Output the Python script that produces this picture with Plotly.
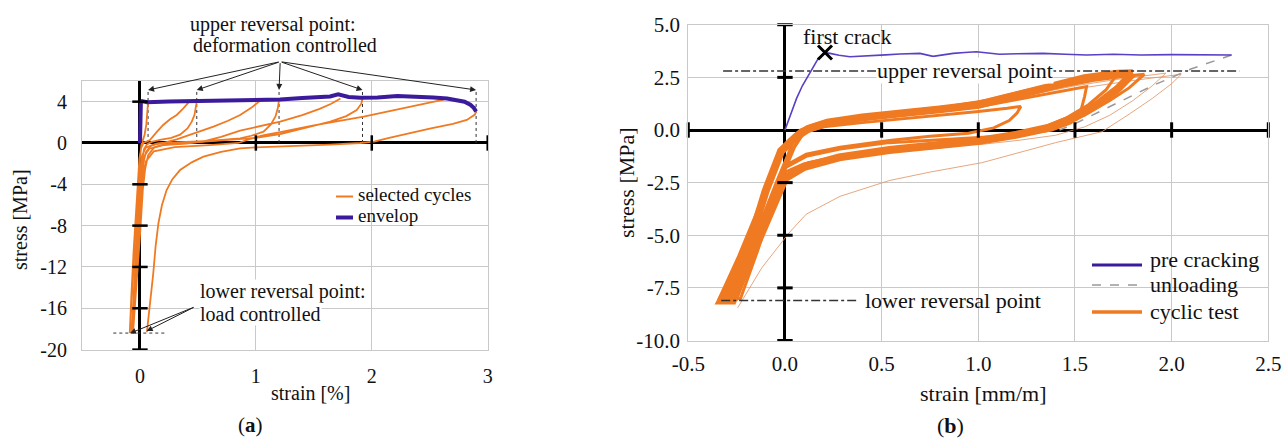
import plotly.graph_objects as go

W, H = 1285, 438
SERIF = "Liberation Serif"
ORANGE = "#F07A22"
ORANGE_LIGHT = "rgba(226,150,105,0.85)"
INDIGO = "#3B1A9C"
PRE_PURPLE = "#5B3FC4"
GRID = "#c9c9c9"
INK = "#111111"

# ---------------- panel (a) data ----------------
env_strain = [0.0, 0.004, 0.008, 0.02, 0.06, 0.25, 0.49, 0.75, 1.0, 1.21, 1.4, 1.55, 1.64, 1.71,
              1.8, 1.9, 2.05, 2.22, 2.4, 2.53, 2.65, 2.74, 2.8, 2.85, 2.88, 2.9]
env_stress = [0.0, 2.0, 3.9, 4.05, 3.95, 4.02, 4.06, 4.12, 4.22, 4.2, 4.35, 4.45, 4.5, 4.7,
              4.45, 4.38, 4.4, 4.55, 4.5, 4.4, 4.3, 4.16, 4.0, 3.7, 3.4, 3.05]

cyc1_strain = [0.07, 0.066, 0.055, 0.04, 0.025, 0.012, 0.0, -0.02, -0.045, -0.07, -0.088, -0.075,
               -0.055, -0.035, -0.018, -0.005, 0.01, 0.03, 0.06, 0.086, 0.14, 0.2, 0.26, 0.317,
               0.37, 0.418]
cyc1_stress = [3.95, 3.0, 1.8, 0.8, 0.2, -0.2, -1.5, -5.0, -10.0, -15.0, -18.4, -15.0,
               -10.5, -6.5, -3.5, -1.5, -0.5, 0.0, 0.15, 0.29, 1.0, 1.74, 2.3, 2.71, 3.3, 3.9]

cyc2_strain = [0.49, 0.483, 0.47, 0.447, 0.41, 0.346, 0.27, 0.173, 0.1, 0.06, 0.035, 0.018, 0.005,
               -0.015, -0.04, -0.075, -0.055, -0.035, -0.015, 0.0, 0.015, 0.05, 0.12, 0.22, 0.317,
               0.45, 0.634, 0.76, 0.864, 0.96, 1.037]
cyc2_stress = [4.0, 3.4, 2.7, 2.06, 1.4, 0.8, 0.5, 0.29, 0.1, -0.15, -0.6, -1.8, -4.0,
               -8.0, -13.0, -18.4, -15.0, -10.0, -5.5, -3.0, -1.3, -0.45, -0.15, 0.05, 0.35,
               0.85, 1.58, 2.15, 2.71, 3.4, 4.1]

cyc3_strain = [1.2, 1.19, 1.17, 1.13, 1.066, 0.96, 0.864, 0.6, 0.3, 0.15, 0.09, 0.05, 0.03, 0.015,
               -0.01, -0.035, -0.065, -0.045, -0.025, -0.005, 0.01, 0.03, 0.08, 0.2, 0.4, 0.55,
               0.7, 0.864, 1.05, 1.21, 1.4, 1.55, 1.65, 1.73]
cyc3_stress = [4.2, 3.4, 2.6, 1.8, 1.09, 0.7, 0.44, 0.2, 0.05, -0.05, -0.3, -0.9, -2.0, -4.0,
               -8.5, -13.0, -18.4, -15.0, -10.0, -5.5, -3.0, -1.4, -0.55, -0.2, -0.05, 0.15,
               0.6, 1.2, 1.65, 2.06, 2.7, 3.3, 3.8, 4.3]

cyc4_strain = [1.92, 1.91, 1.87, 1.78, 1.642, 1.45, 1.21, 1.0, 0.7, 0.4, 0.2, 0.12, 0.07, 0.045,
               0.025, 0.0, -0.03, -0.06, -0.04, -0.02, 0.0, 0.02, 0.05, 0.12, 0.3, 0.6, 0.85,
               0.95, 1.07, 1.21, 1.5, 1.93, 2.3, 2.62]
cyc4_stress = [4.35, 3.8, 3.19, 2.6, 2.06, 1.5, 0.85, 0.5, 0.25, 0.05, -0.15, -0.45, -1.2, -2.5,
               -4.5, -9.0, -14.0, -18.4, -15.0, -10.0, -6.0, -3.5, -1.8, -0.8, -0.4, -0.2, 0.0,
               0.4, 0.77, 1.05, 1.7, 2.55, 3.4, 4.2]

cyc5_strain = [2.9, 2.89, 2.82, 2.7, 2.51, 2.3, 2.15, 2.02, 1.9, 1.64, 1.3, 1.0, 0.864, 0.7, 0.548,
               0.45, 0.346, 0.28, 0.23, 0.19, 0.159, 0.135, 0.115, 0.09, 0.06]
cyc5_stress = [3.05, 2.75, 2.23, 1.85, 1.42, 0.9, 0.5, 0.13, 0.0, -0.15, -0.28, -0.42, -0.53,
               -0.85, -1.33, -1.85, -2.62, -3.5, -4.55, -6.0, -7.78, -10.0, -12.6, -15.5, -18.3]

cycles_a = [(cyc1_strain, cyc1_stress), (cyc2_strain, cyc2_stress), (cyc3_strain, cyc3_stress),
            (cyc4_strain, cyc4_stress), (cyc5_strain, cyc5_stress)]

upper_rev_strain_a = [0.07, 0.49, 1.2, 1.92, 2.9]
upper_arrow_tip_a = 5.13
upper_arrow_origin_a = (1.21, 7.87)
lower_rev_stress_a = -18.4
lower_rev_tips_a = [(-0.086, -18.42), (0.058, -18.2)]
lower_arrow_origin_a = (0.475, -15.85)
lower_dotted_span_a = [-0.23, 0.23]

a_xticks = [0, 1, 2, 3]
a_yticks = [-20, -16, -12, -8, -4, 0, 4]
a_ycross = [4, -4, -8, -12, -16, -20]
a_xcross = [1, 2, 3]

# ---------------- panel (b) data ----------------
pre_strain = [0.0, 0.03, 0.06, 0.09, 0.12, 0.15, 0.172, 0.207, 0.233, 0.28, 0.336, 0.4, 0.457,
              0.52, 0.595, 0.65, 0.698, 0.766, 0.82, 0.87, 0.93, 0.99, 1.05, 1.11, 1.2, 1.335,
              1.45, 1.56, 1.7, 1.84, 2.0, 2.15, 2.31]
pre_stress = [0.0, 0.8, 1.5, 2.1, 2.61, 3.05, 3.4, 3.68, 3.64, 3.55, 3.48, 3.5, 3.52, 3.57,
              3.61, 3.64, 3.64, 3.5, 3.58, 3.64, 3.68, 3.72, 3.66, 3.6, 3.62, 3.64, 3.6, 3.56,
              3.6, 3.56, 3.58, 3.57, 3.56]
first_crack = (0.207, 3.68)

unl_strain = [2.31, 2.1, 1.9, 1.7, 1.5, 1.42]
unl_stress = [3.56, 2.9, 2.1, 1.2, 0.3, 0.0]

main_strain = [1.80, 1.72, 1.55, 1.40, 1.20, 1.00, 0.80, 0.60, 0.40, 0.22, 0.12, 0.06, -0.02,
               -0.10, -0.17, -0.25, -0.33, -0.27, -0.18, -0.10, -0.04, 0.00, 0.10, 0.28, 0.54,
               0.80, 1.00, 1.20, 1.36, 1.50, 1.62, 1.72, 1.80]
main_stress = [2.70, 2.67, 2.46, 2.14, 1.66, 1.20, 0.98, 0.80, 0.60, 0.35, 0.05, -0.30, -1.00,
               -2.90, -5.00, -6.70, -8.10, -8.10, -6.20, -4.60, -3.20, -2.30, -1.75, -1.30, -0.95,
               -0.72, -0.52, -0.22, 0.10, 0.60, 1.25, 1.95, 2.70]

v1_strain = [1.86, 1.78, 1.60, 1.40, 1.20, 1.00, 0.80, 0.60, 0.40, 0.22, 0.12, 0.05, 0.00, -0.045,
             -0.10, -0.15, -0.23, -0.30, -0.26, -0.17, -0.09, -0.03, 0.02, 0.12, 0.30, 0.55, 0.80,
             1.00, 1.20, 1.40, 1.55, 1.68, 1.78, 1.86]
v1_stress = [2.65, 2.58, 2.36, 2.02, 1.55, 1.12, 0.90, 0.72, 0.52, 0.28, 0.00, -0.40, -1.50, -2.50,
             -3.80, -5.00, -6.70, -8.00, -8.00, -6.10, -4.40, -3.00, -2.10, -1.55, -1.20, -0.90,
             -0.65, -0.45, -0.20, 0.15, 0.70, 1.40, 2.00, 2.65]

v2_strain = [1.72, 1.62, 1.45, 1.25, 1.05, 0.85, 0.65, 0.45, 0.28, 0.15, 0.08, 0.02, -0.06, -0.15,
             -0.24, -0.34, -0.30, -0.22, -0.15, -0.09, -0.05, 0.00, 0.10, 0.25, 0.50, 0.75, 0.95,
             1.15, 1.32, 1.45, 1.57, 1.66, 1.72]
v2_stress = [2.68, 2.58, 2.30, 1.88, 1.42, 1.12, 0.92, 0.72, 0.50, 0.25, 0.00, -0.50, -1.90, -4.00,
             -6.00, -8.00, -8.10, -6.30, -4.90, -3.60, -2.70, -2.00, -1.60, -1.35, -1.05, -0.85,
             -0.65, -0.35, 0.05, 0.55, 1.20, 1.90, 2.68]

e1_strain = [0.10, 0.20, 0.40, 0.60, 0.80, 1.00, 1.15, 1.22, 1.20, 1.16, 1.08, 0.95, 0.75, 0.54,
             0.285, 0.11, 0.01, -0.06, -0.15, -0.24, -0.30, -0.25, -0.16, -0.07, 0.00, 0.05, 0.10]
e1_stress = [-0.10, 0.15, 0.35, 0.52, 0.70, 0.88, 1.03, 1.12, 0.80, 0.45, 0.10, -0.15, -0.30, -0.50,
             -0.82, -1.15, -1.65, -3.20, -5.20, -7.00, -8.05, -8.05, -5.80, -3.60, -1.90, -0.80,
             -0.10]

e2_strain = [0.10, 0.25, 0.50, 0.75, 1.00, 1.20, 1.40, 1.56, 1.55, 1.53, 1.48, 1.38, 1.20, 0.90,
             0.54, 0.285, 0.11, 0.00, -0.08, -0.18, -0.29, -0.23, -0.14, -0.06, 0.02, 0.10]
e2_stress = [-0.05, 0.30, 0.60, 0.85, 1.10, 1.45, 1.80, 2.06, 1.60, 0.90, 0.35, 0.00, -0.25, -0.42,
             -0.60, -0.90, -1.25, -1.80, -3.60, -5.80, -8.00, -8.00, -5.70, -3.30, -1.20, -0.05]

o1_strain = [0.12, 0.30, 0.60, 0.90, 1.20, 1.50, 1.80, 2.05, 2.00, 1.90, 1.78, 1.64, 1.40, 1.02,
             0.75, 0.54, 0.285, 0.11, 0.02, -0.12, -0.245]
o1_stress = [0.00, 0.45, 0.75, 1.00, 1.45, 1.95, 2.35, 2.65, 2.20, 1.50, 0.75, -0.08, -0.60, -1.55,
             -2.00, -2.40, -3.15, -4.00, -4.90, -6.55, -8.45]

o2_strain = [1.20, 1.50, 1.75, 1.97, 1.90, 1.80, 1.68, 1.55, 1.40, 1.20, 1.00]
o2_stress = [1.55, 2.10, 2.45, 2.70, 2.10, 1.40, 0.70, 0.15, -0.25, -0.50, -0.70]

upper_rev_b = 2.8
upper_rev_span_b = [-0.32, 2.35]
lower_rev_b = -8.1
lower_rev_span_b = [-0.33, 0.37]

b_xticks = [-0.5, 0.0, 0.5, 1.0, 1.5, 2.0, 2.5]
b_yticks = [-10.0, -7.5, -5.0, -2.5, 0.0, 2.5, 5.0]
b_ycross = [5.0, 2.5, -2.5, -5.0, -7.5, -10.0]
b_xcross = [-0.5, 0.5, 1.0, 1.5, 2.0, 2.5]


def P(px, py):
    return px / W, 1 - py / H


def label(txt, px, py, size, xanchor="center", bg=None, angle=0):
    x, y = P(px, py)
    d = dict(text=txt, x=x, y=y, xref="paper", yref="paper", showarrow=False,
             xanchor=xanchor, yanchor="middle", textangle=angle,
             font=dict(family=SERIF, size=size, color=INK))
    if bg:
        d.update(bgcolor=bg, borderpad=0)
    return d


fig = go.Figure()

# ---- panel (a) traces ----
vx, vy = [], []
for s in upper_rev_strain_a:
    vx += [s, s, None]
    vy += [0, upper_arrow_tip_a, None]
fig.add_trace(go.Scatter(x=vx, y=vy, mode="lines", line=dict(color="#333", width=1, dash="dot"),
                         hoverinfo="skip", showlegend=False, xaxis="x", yaxis="y"))
fig.add_trace(go.Scatter(x=lower_dotted_span_a, y=[lower_rev_stress_a] * 2, mode="lines",
                         line=dict(color="#333", width=1, dash="dot"), hoverinfo="skip",
                         showlegend=False, xaxis="x", yaxis="y"))
for i, (cx, cy) in enumerate(cycles_a):
    fig.add_trace(go.Scatter(x=cx, y=cy, mode="lines", name="selected cycles",
                             line=dict(color=ORANGE, width=1.8), showlegend=False,
                             legendgroup="sc", xaxis="x", yaxis="y"))
fig.add_trace(go.Scatter(x=env_strain, y=env_stress, mode="lines", name="envelop",
                         line=dict(color=INDIGO, width=4), showlegend=False, xaxis="x", yaxis="y"))
fig.add_trace(go.Scatter(x=[0] * len(a_ycross), y=a_ycross, mode="markers", cliponaxis=False,
                         marker=dict(symbol="line-ew", size=11, color="black",
                                     line=dict(width=2.5, color="black")),
                         hoverinfo="skip", showlegend=False, xaxis="x", yaxis="y"))
fig.add_trace(go.Scatter(x=a_xcross, y=[0] * len(a_xcross), mode="markers", cliponaxis=False,
                         marker=dict(symbol="line-ns", size=11, color="black",
                                     line=dict(width=2.5, color="black")),
                         hoverinfo="skip", showlegend=False, xaxis="x", yaxis="y"))

# ---- panel (b) traces ----
for sx, sy in [(o1_strain, o1_stress), (o2_strain, o2_stress)]:
    fig.add_trace(go.Scatter(x=sx, y=sy, mode="lines", line=dict(color=ORANGE_LIGHT, width=1),
                             showlegend=False, xaxis="x2", yaxis="y2"))
for sx, sy in [(e1_strain, e1_stress), (e2_strain, e2_stress), (v1_strain, v1_stress),
               (v2_strain, v2_stress)]:
    fig.add_trace(go.Scatter(x=sx, y=sy, mode="lines", line=dict(color=ORANGE, width=3),
                             showlegend=False, xaxis="x2", yaxis="y2"))
fig.add_trace(go.Scatter(x=main_strain, y=main_stress, mode="lines", name="cyclic test",
                         line=dict(color=ORANGE, width=8), showlegend=False,
                         xaxis="x2", yaxis="y2"))
fig.add_trace(go.Scatter(x=unl_strain, y=unl_stress, mode="lines", name="unloading",
                         line=dict(color="#999999", width=1.5, dash="dash"), showlegend=False,
                         xaxis="x2", yaxis="y2"))
fig.add_trace(go.Scatter(x=pre_strain, y=pre_stress, mode="lines", name="pre cracking",
                         line=dict(color=PRE_PURPLE, width=1.6), showlegend=False,
                         xaxis="x2", yaxis="y2"))
fig.add_trace(go.Scatter(x=upper_rev_span_b, y=[upper_rev_b] * 2, mode="lines",
                         line=dict(color="#333", width=1.5, dash="dashdot"), showlegend=False,
                         hoverinfo="skip", xaxis="x2", yaxis="y2"))
fig.add_trace(go.Scatter(x=lower_rev_span_b, y=[lower_rev_b] * 2, mode="lines",
                         line=dict(color="#333", width=1.5, dash="dashdot"), showlegend=False,
                         hoverinfo="skip", xaxis="x2", yaxis="y2"))
fig.add_trace(go.Scatter(x=[first_crack[0]], y=[first_crack[1]], mode="markers",
                         marker=dict(symbol="x-thin", size=14, color="black",
                                     line=dict(width=3, color="black")),
                         showlegend=False, xaxis="x2", yaxis="y2"))
fig.add_trace(go.Scatter(x=[0] * len(b_ycross), y=b_ycross, mode="markers", cliponaxis=False,
                         marker=dict(symbol="line-ew", size=11, color="black",
                                     line=dict(width=3, color="black")),
                         hoverinfo="skip", showlegend=False, xaxis="x2", yaxis="y2"))
fig.add_trace(go.Scatter(x=b_xcross, y=[0] * len(b_xcross), mode="markers", cliponaxis=False,
                         marker=dict(symbol="line-ns", size=11, color="black",
                                     line=dict(width=3, color="black")),
                         hoverinfo="skip", showlegend=False, xaxis="x2", yaxis="y2"))

# ---- annotations ----
ann = []
ann.append(label("upper reversal point:", 273, 24, 20))
ann.append(label("deformation controlled", 285, 45, 20))
for s in upper_rev_strain_a:
    ann.append(dict(x=s, y=upper_arrow_tip_a, xref="x", yref="y", text="", showarrow=True,
                    ax=upper_arrow_origin_a[0], ay=upper_arrow_origin_a[1], axref="x", ayref="y",
                    arrowhead=2, arrowsize=1.2, arrowwidth=1, arrowcolor="#222"))
ann.append(label("lower reversal point:", 199, 291.5, 20, xanchor="left", bg="white"))
ann.append(label("load controlled", 199, 313.5, 20, xanchor="left", bg="white"))
for tx, ty in lower_rev_tips_a:
    ann.append(dict(x=tx, y=ty, xref="x", yref="y", text="", showarrow=True,
                    ax=lower_arrow_origin_a[0], ay=lower_arrow_origin_a[1], axref="x", ayref="y",
                    arrowhead=2, arrowsize=1.2, arrowwidth=1, arrowcolor="#222"))
ann.append(label("selected cycles", 356, 194.5, 19, xanchor="left"))
ann.append(label("envelop", 356, 215.5, 19, xanchor="left"))
ann.append(label("stress [MPa]", 20, 220, 20, angle=-90))
ann.append(label("strain [%]", 310, 393, 20))
ann.append(label("(<b>a</b>)", 250, 425, 21))

ann.append(label("first crack", 847, 36, 22))
ann.append(label("upper reversal point", 965, 70, 22, bg="white"))
ann.append(label("lower reversal point", 863, 300, 22, xanchor="left"))
ann.append(label("pre cracking", 1148, 259, 22, xanchor="left"))
ann.append(label("unloading", 1148, 284, 22, xanchor="left"))
ann.append(label("cyclic test", 1148, 311, 22, xanchor="left"))
ann.append(label("stress [MPa]", 626, 183, 22, angle=-90))
ann.append(label("strain [mm/m]", 983, 393, 22))
ann.append(label("(<b>b</b>)", 950, 425, 22))


def seg(px0, px1, py, color, width, dash="solid"):
    x0, y0 = P(px0, py)
    x1, _ = P(px1, py)
    return dict(type="line", xref="paper", yref="paper", x0=x0, x1=x1, y0=y0, y1=y0,
                line=dict(color=color, width=width, dash=dash), layer="above")


def box(px0, py0, px1, py1):
    x0, y0 = P(px0, py1)
    x1, y1 = P(px1, py0)
    return dict(type="rect", xref="paper", yref="paper", x0=x0, x1=x1, y0=y0, y1=y1,
                fillcolor="white", line=dict(width=0), layer="between")


shapes = [
    box(333, 184, 486, 227),
    seg(336, 353, 196.5, ORANGE, 2),
    seg(336, 353, 217.5, INDIGO, 4),
    box(995, 244, 1266, 322),
    seg(1092, 1142, 265, INDIGO, 3),
    seg(1092, 1142, 285, "#999999", 1.5, "dash"),
    seg(1092, 1142, 312, ORANGE, 3.5),
]

axis_common = dict(showgrid=True, gridcolor=GRID, gridwidth=1, zeroline=True,
                   zerolinecolor="black", showline=True, mirror=True, linecolor=GRID,
                   linewidth=1, ticks="", fixedrange=True, automargin=False)

fig.update_layout(
    width=W, height=H, autosize=False,
    margin=dict(l=0, r=0, t=0, b=0, pad=0),
    paper_bgcolor="white", plot_bgcolor="white",
    showlegend=False,
    font=dict(family=SERIF, color=INK),
    xaxis=dict(domain=[82 / W, 487.7 / W], range=[-0.5, 3], tickvals=a_xticks,
               ticktext=[str(v) for v in a_xticks], zerolinewidth=2.5, anchor="y",
               tickfont=dict(family=SERIF, size=20, color=INK), ticklabelstandoff=8,
               **axis_common),
    yaxis=dict(domain=[1 - 349.6 / H, 1 - 81 / H], range=[-20, 6], tickvals=a_yticks,
               ticktext=[str(v) for v in a_yticks], zerolinewidth=2.5, anchor="x",
               tickfont=dict(family=SERIF, size=20, color=INK), ticklabelstandoff=10,
               **axis_common),
    xaxis2=dict(domain=[688.3 / W, 1268.3 / W], range=[-0.5, 2.5], tickvals=b_xticks,
                ticktext=["%.1f" % v for v in b_xticks], zerolinewidth=3, anchor="y2",
                tickfont=dict(family=SERIF, size=21, color=INK), ticklabelstandoff=4,
                **axis_common),
    yaxis2=dict(domain=[1 - 340.5 / H, 1 - 24.75 / H], range=[-10, 5], tickvals=b_yticks,
                ticktext=["%.1f" % v for v in b_yticks], zerolinewidth=3, anchor="x2",
                tickfont=dict(family=SERIF, size=21, color=INK), ticklabelstandoff=3,
                **axis_common),
    annotations=ann,
    shapes=shapes,
)

fig.write_html("out.html", config={"displayModeBar": False},
               post_script="document.body.style.margin='0px';document.body.style.padding='0px';")
